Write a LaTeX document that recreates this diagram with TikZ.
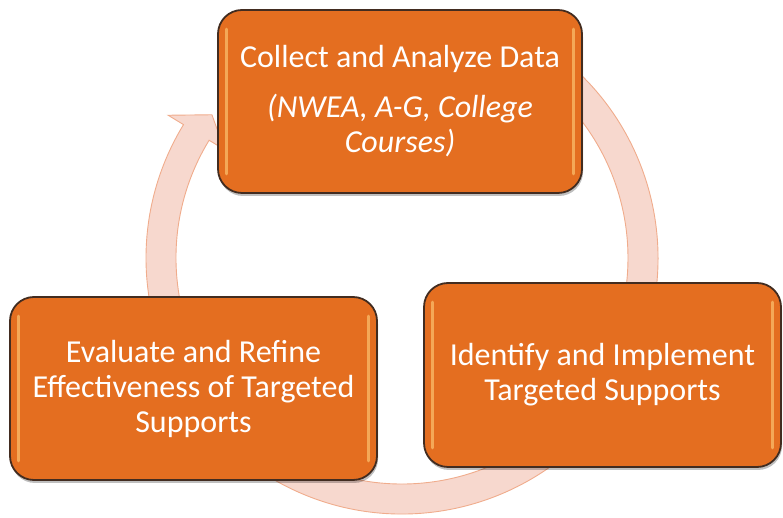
\documentclass[tikz,border=0pt]{standalone}
\usepackage{fontspec}
\setmainfont{Carlito}
\usetikzlibrary{calc,shadows}
\definecolor{boxfill}{RGB}{228,110,32}
\definecolor{boxline}{RGB}{66,44,32}
\definecolor{ringfill}{RGB}{247,216,206}
\definecolor{ringline}{RGB}{240,172,140}
\definecolor{glow}{RGB}{255,208,125}
\begin{document}
\begin{tikzpicture}[x=1pt,y=1pt,
  stepbox/.style={draw=boxline, line width=1.8pt, fill=boxfill, rounded corners=24pt,
    text=white, align=center, font=\fontsize{32}{35}\selectfont, inner sep=0pt,
    drop shadow={shadow xshift=1pt, shadow yshift=-3pt, opacity=0.25, fill=black}},
  ring/.style={fill=ringfill, draw=ringline, line width=0.9pt},
  hl/.style={draw=glow, line width=3pt, line cap=round, opacity=0.6}]
\useasboundingbox (0,0) rectangle (783,518);
\coordinate (c) at (402,260);
% circular arrow behind the boxes
\draw[ring] ($(c)+(60:256)$) arc[start angle=60, end angle=-211.4, radius=256]
  -- ($(c)+(148.6:274)$) -- ($(c)+(143:238)$) -- ($(c)+(148.6:208)$)
  -- ($(c)+(148.6:226)$) arc[start angle=-211.4, end angle=60, radius=226] -- cycle;
% boxes
\node[stepbox, minimum width=364pt, minimum height=183pt] (collect) at (400,416.5)
  {Collect and Analyze Data\\[15pt]\itshape (NWEA, A-G, College\\\itshape Courses)};
\node[stepbox, minimum width=367pt, minimum height=183pt] (evaluate) at (193.5,129.5)
  {Evaluate and Refine\\Effectiveness of Targeted\\Supports};
\node[stepbox, minimum width=357pt, minimum height=184pt] (identify) at (602.5,143)
  {Identify and Implement\\Targeted Supports};
% glossy side highlights
\foreach \n in {collect,evaluate,identify} {
  \draw[hl] ([shift={(9,-20)}]\n.north west) -- ([shift={(9,20)}]\n.south west);
  \draw[hl] ([shift={(-9,-20)}]\n.north east) -- ([shift={(-9,20)}]\n.south east);
}
\end{tikzpicture}
\end{document}
